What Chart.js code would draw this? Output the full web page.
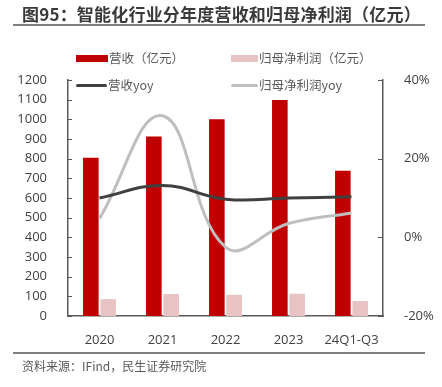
<!DOCTYPE html>
<html>
<head>
<meta charset="utf-8">
<script src="https://cdn.jsdelivr.net/npm/chart.js@4.4.1/dist/chart.umd.min.js"></script>
<style>
  html, body { margin: 0; padding: 0; background: #fff; }
  body { width: 442px; height: 387px; position: relative; overflow: hidden;
    font-family: 'Noto Sans CJK SC', sans-serif; }
  #title { position: absolute; left: 22px; top: 1px; font-size: 17px; font-weight: bold;
    color: #3a3a3a; white-space: nowrap; letter-spacing: 0.2px; }
  .rule { position: absolute; left: 13px; width: 412px; height: 2px; background: #7f7f7f; }
  #source { position: absolute; left: 22px; top: 357px; font-size: 12px; color: #595959; white-space: nowrap; }
  #chart-wrap { position: absolute; left: 0; top: 0; width: 442px; height: 387px; }
  .leg { position: absolute; font-size: 12.5px; color: #595959; white-space: nowrap; line-height: 16px; }
  .leg i { position: absolute; display: block; }
</style>
</head>
<body>
<div id="chart-wrap"><canvas id="chart" width="442" height="387"></canvas></div>
<div id="title">图95：智能化行业分年度营收和归母净利润（亿元）</div>
<div class="rule" style="top:24px"></div>
<div class="rule" style="top:352px"></div>
<div id="source">资料来源：IFind，民生证券研究院</div>
<div id="legend"></div>
<script>
// Chart data
const categories = ['2020', '2021', '2022', '2023', '24Q1-Q3'];
const revenue = [805, 913, 1000, 1098, 739];     // 营收（亿元）
const netProfit = [86, 112, 108, 113, 76];       // 归母净利润（亿元）
const revenueYoy = [10.0, 13.2, 9.7, 10.0, 10.3];  // %
const profitYoy = [4.8, 30.9, -2.5, 3.5, 6.2];     // %

const axisColor = '#595959';
const tickFont = { size: 13, family: "'Open Sans', 'Noto Sans CJK SC', sans-serif" };

// small inner tick marks on both value axes
const innerTicks = {
  id: 'innerTicks',
  afterDraw(chart) {
    const ctx = chart.ctx;
    ctx.save();
    ctx.strokeStyle = axisColor;
    ctx.lineWidth = 1;
    const y = chart.scales.y;
    y.ticks.forEach((t) => {
      const py = Math.round(y.getPixelForValue(t.value)) + 0.5;
      ctx.beginPath();
      ctx.moveTo(y.right, py);
      ctx.lineTo(y.right + 4, py);
      ctx.stroke();
    });
    const y2 = chart.scales.y2;
    y2.ticks.forEach((t) => {
      const py = Math.round(y2.getPixelForValue(t.value)) + 0.5;
      ctx.beginPath();
      ctx.moveTo(y2.left - 5, py);
      ctx.lineTo(y2.left, py);
      ctx.stroke();
    });
    ctx.restore();
  }
};

const ctx = document.getElementById('chart').getContext('2d');
const chart = new Chart(ctx, {
  data: {
    labels: categories,
    datasets: [
      {
        type: 'bar',
        label: '营收（亿元）',
        data: revenue,
        backgroundColor: '#C00000',
        yAxisID: 'y',
        order: 2,
        categoryPercentage: 0.55,
        barPercentage: 0.9
      },
      {
        type: 'bar',
        label: '归母净利润（亿元）',
        data: netProfit,
        backgroundColor: '#E8C3C3',
        yAxisID: 'y',
        order: 2,
        categoryPercentage: 0.55,
        barPercentage: 0.9
      },
      {
        type: 'line',
        label: '营收yoy',
        data: revenueYoy,
        borderColor: '#404040',
        borderWidth: 3,
        pointRadius: 0,
        tension: 0.42,
        yAxisID: 'y2',
        order: 0
      },
      {
        type: 'line',
        label: '归母净利润yoy',
        data: profitYoy,
        borderColor: '#BFBFBF',
        borderWidth: 3,
        pointRadius: 0,
        tension: 0.42,
        yAxisID: 'y2',
        order: 1
      }
    ]
  },
  options: {
    responsive: false,
    animation: false,
    layout: { padding: { top: 80, bottom: 41, left: 0, right: 0 } },
    plugins: {
      legend: { display: false },
      title: { display: false },
      tooltip: { enabled: false }
    },
    scales: {
      x: {
        grid: { display: false },
        border: { display: true, color: axisColor, width: 1.5 },
        ticks: { color: '#404040', font: tickFont, padding: 8, maxRotation: 0 },
        afterFit: (scale) => { scale.height = 30; }
      },
      y: {
        position: 'left',
        min: 0,
        max: 1200,
        grid: { display: false },
        border: { display: true, color: axisColor, width: 1.5 },
        ticks: {
          stepSize: 100,
          color: '#404040',
          font: tickFont,
          padding: 13,
          callback: (v) => String(v)
        },
        afterFit: (scale) => { scale.width = 68; }
      },
      y2: {
        position: 'right',
        min: -20,
        max: 40,
        grid: { display: false },
        border: { display: true, color: axisColor, width: 1.5 },
        ticks: {
          stepSize: 20,
          color: '#404040',
          font: tickFont,
          padding: 13,
          callback: (v) => v + '%'
        },
        afterFit: (scale) => { scale.width = 59; }
      }
    }
  },
  plugins: [innerTicks]
});

// HTML legend built from the datasets, laid over the top of the plot
const legendSpots = [
  { left: 76, top: 51, w: 32, h: 7, kind: 'box' },
  { left: 231, top: 51, w: 27, h: 7, kind: 'box' },
  { left: 76, top: 78, w: 31, h: 3, kind: 'line' },
  { left: 231, top: 78, w: 27, h: 3, kind: 'line' }
];
const legendEl = document.getElementById('legend');
chart.data.datasets.forEach((ds, i) => {
  const s = legendSpots[i];
  const item = document.createElement('div');
  item.className = 'leg';
  item.style.left = s.left + 'px';
  item.style.top = (s.top - 1) + 'px';
  item.style.paddingLeft = (s.w + 1) + 'px';
  const mark = document.createElement('i');
  mark.style.left = '0px';
  mark.style.top = (8 - s.h / 2) + 'px';
  mark.style.width = s.w + 'px';
  mark.style.height = s.h + 'px';
  mark.style.background = ds.type === 'bar' ? ds.backgroundColor : ds.borderColor;
  if (s.kind === 'line') mark.style.borderRadius = '2px';
  item.appendChild(mark);
  item.appendChild(document.createTextNode(ds.label));
  legendEl.appendChild(item);
});
</script>
</body>
</html>
